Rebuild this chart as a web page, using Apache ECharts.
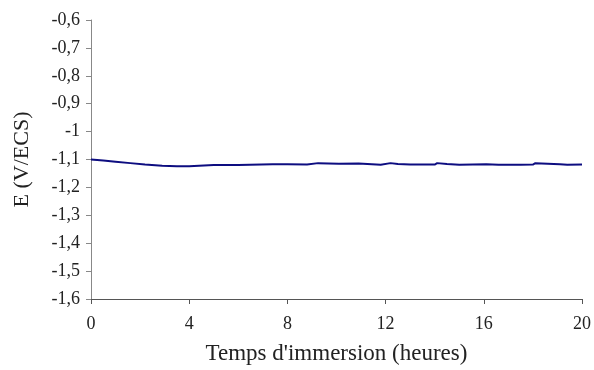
<!DOCTYPE html>
<html>
<head>
<meta charset="utf-8">
<script src="https://cdn.jsdelivr.net/npm/echarts@6/dist/echarts.min.js"></script>
<style>
  html, body { margin: 0; padding: 0; background: #fff; }
  #main { width: 594px; height: 370px; }
</style>
</head>
<body>
<div id="main"></div>
<script>
// temps (heures) et potentiel (V/ECS)
var temps = [0, 0.5, 1, 1.6, 2.2, 2.9, 3.5, 4.0, 4.05, 5, 6.0, 6.05, 7.4, 7.45, 8.0, 8.8, 9.25, 10.1, 10.9, 11.8, 12.2, 12.5, 13.0, 14.0, 14.1, 14.5, 15.0, 16.1, 16.6, 17.5, 18.0, 18.1, 18.6, 19.1, 19.4, 20];
var potentiel = [-1.100, -1.104, -1.108, -1.113, -1.118, -1.122, -1.124, -1.124, -1.120, -1.120, -1.120, -1.117, -1.117, -1.120, -1.117, -1.118, -1.113, -1.115, -1.114, -1.119, -1.113, -1.116, -1.118, -1.118, -1.113, -1.116, -1.119, -1.117, -1.119, -1.119, -1.118, -1.113, -1.115, -1.117, -1.119, -1.118];
var yTicks = { min: -1.6, max: -0.6, interval: 0.1 };
var xTicks = { min: 0, max: 20, interval: 4 };

var myChart = echarts.init(document.getElementById('main'));

var data = [];
for (var i = 0; i < temps.length; i++) {
  data.push([temps[i], potentiel[i]]);
}

var option = {
  animation: false,
  textStyle: { fontFamily: 'Liberation Serif' },
  grid: { left: 91, right: 8, top: 20, bottom: 71 },
  xAxis: {
    type: 'value',
    min: xTicks.min,
    max: xTicks.max,
    interval: xTicks.interval,
    name: "Temps d'immersion (heures)",
    nameLocation: 'middle',
    nameGap: 43,
    nameTextStyle: { fontFamily: 'Liberation Serif', fontSize: 23, color: '#222' },
    axisLine: { lineStyle: { color: '#555', width: 1 } },
    axisTick: { show: true, length: 5, lineStyle: { color: '#555' } },
    axisLabel: { margin: 16, fontFamily: 'Liberation Serif', fontSize: 18, color: '#222' },
    splitLine: { show: false }
  },
  yAxis: {
    type: 'value',
    min: yTicks.min,
    max: yTicks.max,
    interval: yTicks.interval,
    name: 'E (V/ECS)',
    nameLocation: 'middle',
    nameRotate: 90,
    nameGap: 58,
    nameTextStyle: { fontFamily: 'Liberation Serif', fontSize: 22, color: '#222' },
    axisLine: { show: true, lineStyle: { color: '#888', width: 1 } },
    axisTick: { show: true, length: 5, lineStyle: { color: '#888' } },
    axisLabel: {
      margin: 11,
      fontFamily: 'Liberation Serif',
      fontSize: 18,
      color: '#222',
      formatter: function (v) {
        return String(Math.round(v * 10) / 10).replace('.', ',');
      }
    },
    splitLine: { show: false }
  },
  series: [
    {
      type: 'line',
      data: data,
      showSymbol: false,
      lineStyle: { color: '#0d0d80', width: 2 }
    }
  ]
};

myChart.setOption(option);
</script>
</body>
</html>
